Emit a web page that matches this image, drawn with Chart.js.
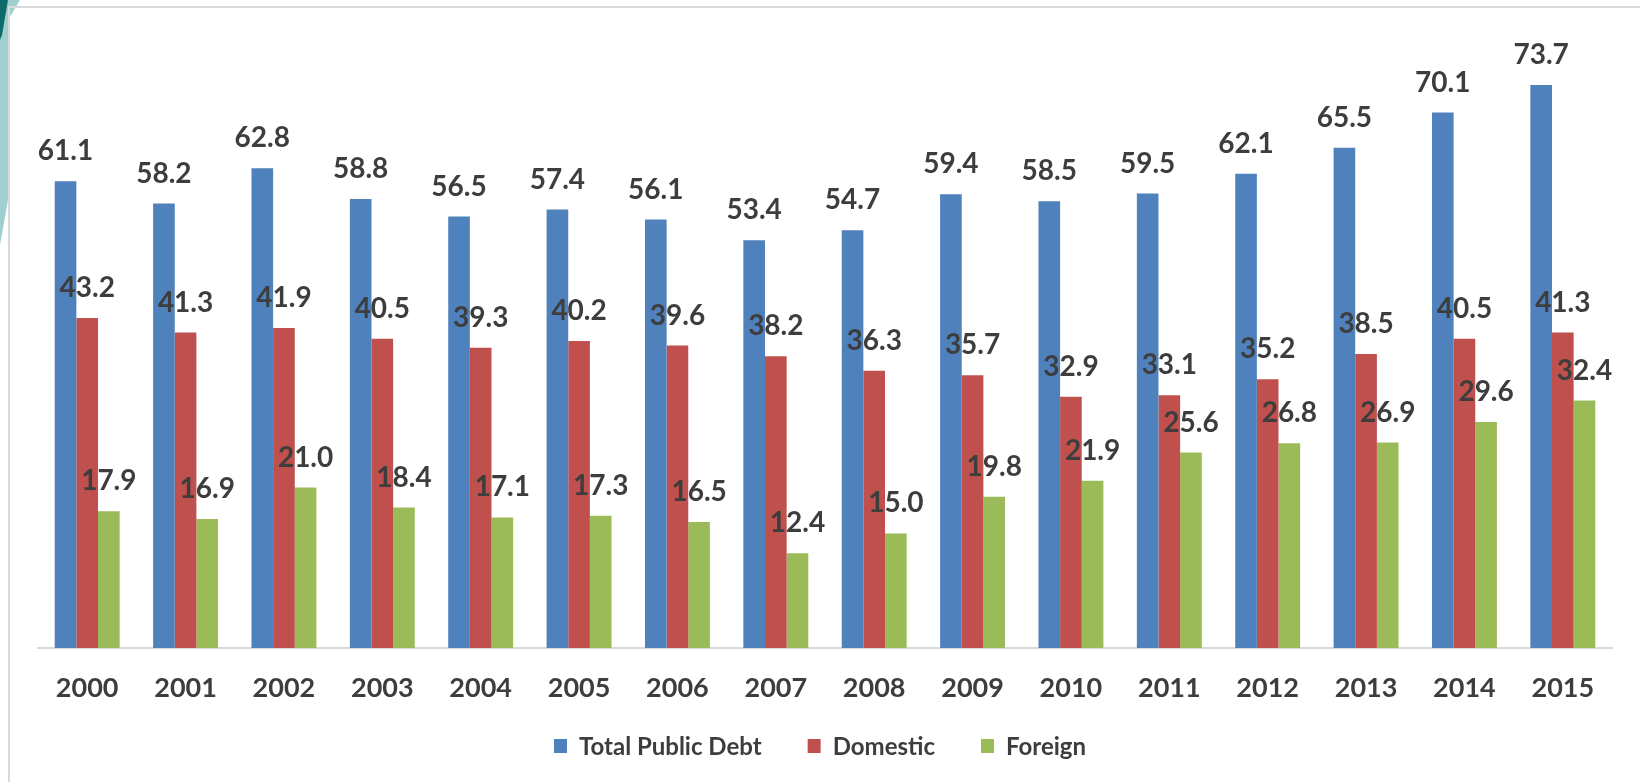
<!DOCTYPE html>
<html>
<head>
<meta charset="utf-8">
<script src="https://cdn.jsdelivr.net/npm/chart.js@4"></script>
<style>
  body { margin: 0; background: #fff; }
  #wrap { position: relative; width: 1640px; height: 782px; }
</style>
</head>
<body>
<div id="wrap"><canvas id="debtChart"></canvas></div>
<script>
const years = ['2000', '2001', '2002', '2003', '2004', '2005', '2006', '2007',
               '2008', '2009', '2010', '2011', '2012', '2013', '2014', '2015'];
const totalDebt = [61.1, 58.2, 62.8, 58.8, 56.5, 57.4, 56.1, 53.4, 54.7, 59.4, 58.5, 59.5, 62.1, 65.5, 70.1, 73.7];
const domestic  = [43.2, 41.3, 41.9, 40.5, 39.3, 40.2, 39.6, 38.2, 36.3, 35.7, 32.9, 33.1, 35.2, 38.5, 40.5, 41.3];
const foreign   = [17.9, 16.9, 21.0, 18.4, 17.1, 17.3, 16.5, 12.4, 15.0, 19.8, 21.9, 25.6, 26.8, 26.9, 29.6, 32.4];

const textColor = '#3d3d3d';
const fontFamily = 'Lato, "Liberation Sans", sans-serif';

// frame + teal corner decoration
const framePlugin = {
    id: 'frame',
    beforeDraw: function(chart) {
        const ctx = chart.ctx;
        ctx.save();
        ctx.fillStyle = '#9fcfcf';
        ctx.beginPath();
        ctx.moveTo(0, 0);
        ctx.lineTo(20, 0);
        ctx.lineTo(8, 20);
        ctx.lineTo(8, 200);
        ctx.lineTo(0, 245);
        ctx.closePath();
        ctx.fill();
        ctx.fillStyle = '#0f6b6b';
        ctx.beginPath();
        ctx.moveTo(0, 0);
        ctx.lineTo(8, 0);
        ctx.lineTo(2, 35);
        ctx.lineTo(0, 40);
        ctx.closePath();
        ctx.fill();
        ctx.strokeStyle = '#d9d9d9';
        ctx.lineWidth = 2;
        ctx.beginPath();
        ctx.moveTo(1640, 7);
        ctx.lineTo(9, 7);
        ctx.lineTo(9, 782);
        ctx.stroke();
        ctx.restore();
    }
};

// value labels above each bar
const valueLabels = {
    id: 'valueLabels',
    afterDatasetsDraw: function(chart) {
        const ctx = chart.ctx;
        ctx.save();
        ctx.font = 'bold 28px ' + fontFamily;
        ctx.fillStyle = textColor;
        ctx.textAlign = 'center';
        ctx.textBaseline = 'middle';
        chart.data.datasets.forEach(function(ds, i) {
            chart.getDatasetMeta(i).data.forEach(function(bar, j) {
                ctx.fillText(ds.data[j].toFixed(1), bar.x, bar.y - 30);
            });
        });
        ctx.restore();
    }
};

// legend row drawn by hand (Excel-like spacing)
const bottomLegend = {
    id: 'bottomLegend',
    afterDraw: function(chart) {
        const ctx = chart.ctx;
        const sets = chart.data.datasets;
        const boxW = 13, boxH = 14, boxGap = 12, itemGap = 46, cy = 746;
        ctx.save();
        ctx.font = 'bold 24px ' + fontFamily;
        ctx.textBaseline = 'middle';
        ctx.textAlign = 'left';
        const widths = sets.map(function(ds) { return ctx.measureText(ds.label).width; });
        let total = 0;
        widths.forEach(function(w, i) { total += boxW + boxGap + w + (i < widths.length - 1 ? itemGap : 0); });
        let x = chart.width / 2 - total / 2;
        sets.forEach(function(ds, i) {
            ctx.fillStyle = ds.backgroundColor;
            ctx.fillRect(x, cy - boxH / 2, boxW, boxH);
            x += boxW + boxGap;
            ctx.fillStyle = textColor;
            ctx.fillText(ds.label, x, cy + 1);
            x += widths[i] + itemGap;
        });
        ctx.restore();
    }
};

const ctx = document.getElementById('debtChart').getContext('2d');
new Chart(ctx, {
    type: 'bar',
    data: {
        labels: years,
        datasets: [
            { label: 'Total Public Debt', data: totalDebt, backgroundColor: '#4F81BD' },
            { label: 'Domestic', data: domestic, backgroundColor: '#C0504D' },
            { label: 'Foreign', data: foreign, backgroundColor: '#9BBB59' }
        ]
    },
    options: {
        responsive: true,
        maintainAspectRatio: false,
        animation: false,
        layout: { padding: { left: 38, right: 28, top: 37, bottom: 74 } },
        datasets: { bar: { categoryPercentage: 0.66, barPercentage: 1.0 } },
        scales: {
            x: {
                grid: { display: false },
                border: { display: true, color: '#d9d9d9', width: 2 },
                ticks: { color: textColor, padding: 16, font: { family: fontFamily, size: 27, weight: 'bold' } },
                afterFit: function(scale) { scale.height = 60; }
            },
            y: {
                display: false,
                min: 0,
                max: 80
            }
        },
        plugins: {
            legend: { display: false },
            tooltip: { enabled: false }
        }
    },
    plugins: [framePlugin, valueLabels, bottomLegend]
});
</script>
</body>
</html>
